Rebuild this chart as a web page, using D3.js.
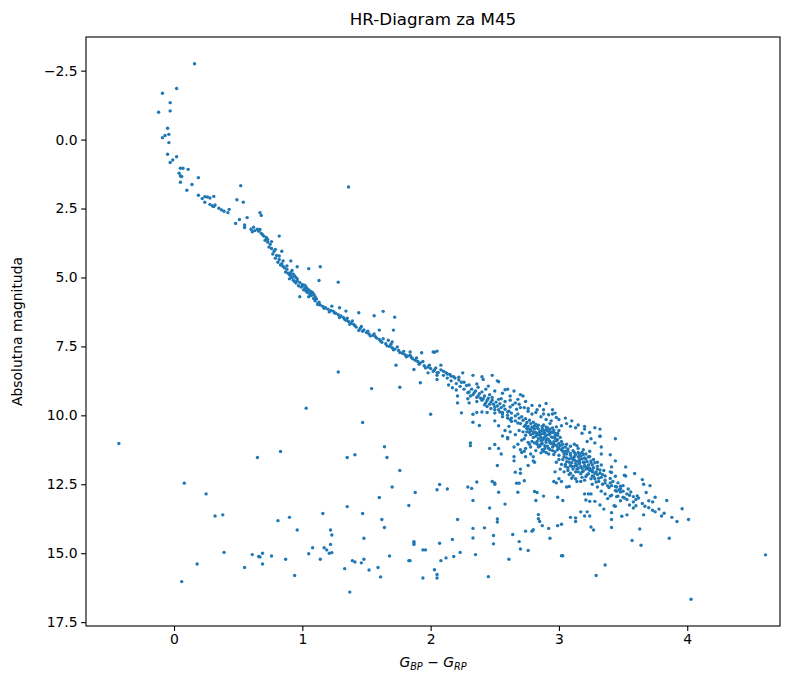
<!DOCTYPE html>
<html>
<head>
<meta charset="utf-8">
<script src="https://cdn.jsdelivr.net/npm/d3@7"></script>
<style>
body { margin: 0; background: #fff; }
text { font-family: "DejaVu Sans", sans-serif; fill: #000; }
</style>
</head>
<body>
<svg id="hr_svg"></svg>
<script>
const TITLE = "HR-Diagram za M45"
const Y_LABEL = "Absolutna magnituda"
const xTicks = [0, 1, 2, 3, 4]
const yTicks = [-2.5, 0, 2.5, 5, 7.5, 10, 12.5, 15, 17.5]

// [G_BP - G_RP, absolute magnitude]
const upperBranch = [
  [0.16,-2.75],[-0.09,-1.68],[0.02,-1.85],[-0.03,-1.34],[-0.03,-1.04],[-0.12,-0.99],[-0.05,-0.41],
  [-0.04,-0.19],[-0.09,-0.07],[-0.07,-0.15],[-0.04,0.11],[-0.05,0.53],[0.02,0.62],[-0.03,0.83],
  [-0.01,0.74],[0.05,1.04],[0.07,1.04],[0.11,1.08],[0.04,1.22],[0.05,1.32],[0.06,1.34],[0.19,1.38],
  [0.05,1.55],[0.14,1.63],[0.10,1.84],[0.19,2.02],[0.22,2.14],[0.24,2.07],[0.26,2.08],[0.28,2.12],
  [0.31,2.06],[0.24,2.27],[0.28,2.35],[0.30,2.41],[0.32,2.37],[0.31,2.43],[0.35,2.49],[0.37,2.55],
  [0.39,2.60],[0.42,2.65],[0.43,2.53],[0.52,1.67],[0.49,2.18],[0.54,2.27],[0.57,2.83],[0.51,2.90],
  [0.48,3.04],[0.55,3.10],[0.55,3.19],[0.60,3.25],[0.62,3.18],[0.63,3.30],[0.65,3.25],[0.61,3.34],
  [0.67,2.65],[1.36,1.72],[0.68,2.75],[0.67,3.26]
]

const mainSequence = [
  [0.68,3.40],[0.70,3.50],[0.72,3.55],[0.71,3.65],[0.73,3.72],[0.75,3.80],[0.74,3.90],[0.76,3.95],
  [0.78,4.05],[0.77,4.15],[0.80,4.20],[0.79,4.30],[0.82,4.35],[0.81,4.45],[0.84,4.50],[0.85,4.60],
  [0.83,4.55],[0.86,4.65],[0.88,4.70],[0.87,4.80],[0.89,4.85],[0.90,4.90],[0.91,4.95],[0.92,5.00],
  [0.90,5.05],[0.93,5.10],[0.92,4.75],[0.94,5.15],[0.95,5.20],[0.96,5.05],[0.97,5.30],[0.99,5.35],
  [1.00,5.25],[1.01,5.45],[1.02,5.40],[1.03,5.50],[1.04,5.55],[1.05,5.45],[1.06,5.60],[1.07,5.65],
  [1.05,5.70],[1.08,5.55],[1.09,5.75],[1.10,5.85],[1.12,5.95],[1.14,6.00],[1.16,6.05],[1.18,6.10],
  [1.20,6.15],[1.22,6.20],[1.24,6.22],[1.26,6.30],[1.28,6.35],[1.30,6.40],[1.32,6.45],[1.34,6.55],
  [1.36,6.60],[1.38,6.65],[1.40,6.70],[1.42,6.80],[1.45,6.85],[1.47,6.95],[1.50,7.00],[1.52,7.05],
  [1.55,7.10],[1.58,7.20],[1.60,7.25],[1.62,7.35],[1.65,7.40],[1.68,7.50],[1.70,7.55],[1.72,7.60],
  [1.75,7.65],[1.78,7.75],[1.80,7.80],[1.82,7.85],[1.85,7.90],[1.88,8.00],[1.90,8.05],[1.92,8.10],
  [1.95,8.20],[1.98,8.25],[2.00,8.30],[2.03,8.35],[2.06,8.45],[2.10,8.55],[2.13,8.65],[2.16,8.75],
  [2.20,8.85],[2.23,8.95],[2.26,9.05],[2.30,9.15],[2.33,9.25],[2.36,9.35],[2.40,9.45],[2.43,9.55],
  [2.46,9.60],[2.50,9.70],[2.53,9.80],[2.56,9.90],[2.60,10.00],[2.63,10.10],[2.66,10.20],[2.70,10.30],
  [2.73,10.40],[2.76,10.50],[2.80,10.60],[2.83,10.70],[2.86,10.80],[2.90,10.90],[2.93,11.00],
  [2.96,11.10],[3.00,11.20],[3.03,11.30],[3.06,11.40],[3.10,11.55],[3.13,11.65],[3.16,11.75],
  [3.20,11.85],[3.23,11.95],[3.26,12.05],[3.30,12.15],[3.33,12.25],[3.36,12.35],[3.40,12.45],
  [3.45,12.60],[3.50,12.75],[3.55,12.90],[3.60,13.05],[3.65,13.20],[3.70,13.35],[3.75,13.50],[3.80,13.65],
  [0.66,3.32],[0.69,3.45],[0.73,3.62],[0.76,3.70],[0.79,3.98],[0.82,4.22],[0.85,4.40],[0.88,4.58],
  [0.91,4.82],[0.93,4.88],[0.95,5.00],[0.98,5.18],[1.00,5.32],[1.03,5.35],[1.06,5.50],[1.09,5.62],
  [1.11,5.78],[1.13,5.90],[1.17,6.12],[1.21,6.25],[1.25,6.28],[1.29,6.45],[1.33,6.52],[1.37,6.70],
  [1.41,6.75],[1.44,6.92],[1.48,6.90],[1.53,7.12],[1.57,7.15],[1.61,7.30],[1.66,7.48],[1.71,7.62],
  [1.76,7.72],[1.81,7.88],[1.86,7.95],[1.91,8.15],[1.96,8.28],[2.02,8.40],
  [0.94,4.95],[0.96,5.12],[1.02,5.28],[1.04,5.42],[1.07,5.52],[1.10,5.70],[1.35,6.48],[1.39,6.58],
  [1.46,6.78],[1.51,6.95],[1.56,7.05],[1.63,7.22],[1.69,7.42],[1.74,7.52],[1.79,7.68],[1.84,7.82],
  [1.89,7.92],[1.94,8.05],[1.99,8.18],[2.04,8.28],[2.08,8.35],[2.12,8.45],[2.15,8.52],[2.18,8.60],
  [2.22,8.62],[2.26,8.80],[2.30,8.90]
]

const sequenceScatter = [
  [0.82,3.50],[0.84,4.05],[0.91,4.40],[0.96,4.61],[1.05,4.68],[1.14,4.61],[1.13,5.11],[1.28,5.17],
  [0.98,5.70],[1.09,5.77],[1.12,5.98],[1.23,6.04],[1.29,6.10],[1.34,6.22],[1.44,6.28],[1.56,6.39],
  [1.63,6.23],[1.72,6.44],[1.60,6.91],[1.71,6.91],[1.67,7.28],[1.70,7.34],[1.84,7.70],[1.93,7.73],
  [2.02,7.70],[2.05,7.67],[2.03,7.71],[1.73,8.18],[1.87,8.34],[1.92,8.82],[1.98,8.46],[2.08,8.18]
]

const clusterCore = [
  [2.05,8.45],[2.05,8.55],[2.05,8.70],[2.10,8.40],[2.13,8.50],[2.16,8.58],[2.19,8.65],[2.22,8.72],
  [2.24,8.80],[2.25,8.46],[2.14,8.90],[2.17,9.00],[2.20,9.08],[2.21,9.30],[2.21,9.55],[2.24,9.91],
  [2.33,8.55],[2.40,8.60],[2.41,8.70],[2.48,8.55],[2.52,8.75],[2.53,8.78],[2.45,8.94],[2.36,8.86],
  [2.29,9.18],[2.29,9.40],[2.30,9.55],[2.33,9.96],[2.36,9.90],[2.40,9.88],[2.44,9.90],[2.50,9.92],
  [2.54,9.88],[2.56,9.95],[2.65,9.12],[2.58,9.07],[2.60,9.05],[2.70,9.25],[2.72,9.30],[2.79,9.64],
  [2.90,9.57],[2.83,9.80],[2.88,9.80],[2.95,9.80],[2.62,9.70],[2.61,9.85],[2.60,10.10],[2.67,9.78],
  [2.68,9.95],[2.71,10.05],[2.74,10.12],[2.77,10.18],[2.80,10.25],[2.82,10.32],[2.88,9.95],[2.92,9.98],
  [2.97,9.92],[2.98,10.08],[2.33,10.25],[2.38,10.37],[2.50,10.20],[2.53,10.38],[2.61,10.40],[2.63,10.22],
  [2.88,10.35],[2.93,10.30],[2.98,10.42],[3.02,10.38],[3.06,10.30],[3.09,10.40],[3.13,10.45],
  [2.28,8.92],[2.32,9.05],[2.35,9.12],[2.38,9.22],[2.42,9.30],[2.45,9.38],[2.48,9.45],[2.51,9.52],
  [2.54,9.58],[2.57,9.65],[2.31,9.30],[2.36,9.50],[2.42,9.62],[2.47,9.75],[2.40,9.15],[2.46,9.25],
  [2.55,9.40],[2.62,9.45],[2.66,9.55],[2.69,9.60],[2.73,9.72],[2.76,9.85],[2.79,9.95],
  [2.76,10.40],[2.78,10.55],[2.80,10.45],[2.82,10.62],[2.84,10.50],[2.85,10.72],[2.86,10.58],[2.87,10.90],
  [2.88,10.66],[2.89,10.78],[2.90,10.52],[2.91,10.85],[2.92,10.70],[2.93,10.95],[2.94,10.60],[2.95,10.80],
  [2.96,11.05],[2.97,10.75],[2.98,10.92],[2.99,11.15],[2.80,10.80],[2.83,10.95],[2.86,11.05],[2.89,11.10],
  [2.92,11.20],[2.95,11.28],[2.78,10.70],[2.81,11.00],[2.84,11.15],[2.87,11.25],[2.90,11.35],[2.75,10.60],
  [2.73,10.85],[2.77,11.05],[2.74,11.20],[2.91,10.45],[2.96,10.55],[2.99,10.65],[3.01,10.80],[3.02,10.95],
  [3.00,10.55],
  [3.02,11.25],[3.04,11.40],[3.05,11.15],[3.06,11.55],[3.07,11.30],[3.08,11.70],[3.09,11.45],[3.10,11.85],
  [3.11,11.60],[3.12,11.35],[3.13,11.75],[3.14,11.95],[3.15,11.50],[3.16,11.65],[3.17,11.85],[3.18,12.05],
  [3.19,11.70],[3.20,11.55],[3.21,11.95],[3.22,12.15],[3.23,11.80],[3.24,12.00],[3.25,11.65],[3.26,12.20],
  [3.27,11.90],[3.28,12.30],[3.29,12.05],[3.30,11.85],[3.31,12.40],[3.32,12.10],[3.03,11.60],[3.05,11.85],
  [3.07,12.00],[3.09,12.10],[3.11,12.20],[3.13,12.30],[3.15,12.05],[3.17,12.40],[3.12,11.05],[3.15,11.20],
  [3.18,11.35],[3.21,11.40],[3.24,11.50],[3.27,11.60],[3.30,11.70],[3.33,11.80],[3.35,12.00],[3.36,12.20],
  [3.38,12.55],[3.34,12.50],[3.00,11.45],[2.98,11.70],[3.01,11.95],[2.97,12.05],
  [2.31,11.00],[2.31,11.10],[2.46,11.20],[2.50,11.06],[2.53,11.20],[2.55,11.40],[2.60,10.80],[2.60,10.85],
  [2.65,11.15],[2.65,11.50],[2.65,11.65],[2.70,11.25],[2.71,11.35],[2.73,11.30],[2.74,11.50],[2.52,11.82],
  [2.70,11.95],[2.70,12.10],[2.66,12.06],[2.76,11.82],[2.80,11.65],[2.81,11.70],[2.62,10.60],[2.66,10.70],
  [2.69,10.55],[2.71,10.90],[2.68,11.05],[2.58,10.55],[2.56,10.75],[2.78,11.40],[2.80,11.50],
  [3.32,10.76],[3.33,11.15],[3.33,11.40],[3.28,10.45],[3.32,10.50],[3.20,10.50],[3.24,10.62],
  [3.44,10.85],[3.40,11.43],[3.44,11.65],[3.41,11.87],[3.52,11.87],[3.40,12.05],[3.41,12.07],[3.44,12.21],
  [3.51,12.17],[3.52,12.20],[3.59,12.11],[3.40,12.29],[3.46,12.45],[3.65,12.33],[3.66,12.50],[3.71,12.55],
  [3.41,12.55],[3.48,12.57],[3.48,12.66],[3.48,12.78],[3.44,12.73],[3.45,12.75],[3.54,12.67],[3.68,12.80],
  [3.40,12.93],[3.41,12.90],[3.46,12.93],[3.50,12.97],[3.51,13.00],[3.53,13.05],[3.61,12.92],[3.75,12.97],
  [3.84,13.09],[3.58,13.14],[3.73,13.14],[3.43,13.28],[3.44,13.30],[3.58,13.36],[3.73,13.44],[3.41,13.53],
  [3.53,13.61],[3.49,13.66],[3.66,13.61],[3.96,13.39],[4.01,13.78],[3.41,13.78],[3.41,14.07],[3.63,14.12],
  [3.86,14.46],[3.57,14.54],[3.64,14.71]
]

// the two crowded knots of the cluster sequence and the band around them
const denseCore = [
  [2.79,10.42],[2.81,10.50],[2.83,10.44],[2.85,10.60],[2.87,10.48],[2.89,10.63],[2.91,10.56],[2.93,10.66],
  [2.95,10.62],[2.97,10.84],[2.99,10.72],[2.82,10.76],[2.84,10.85],[2.86,10.92],[2.88,10.84],[2.90,10.98],
  [2.92,10.88],[2.94,11.02],[2.96,10.96],[2.98,11.08],[3.00,11.02],[2.83,11.05],[2.85,11.12],[2.87,11.02],
  [2.89,11.20],[2.91,11.12],[2.93,11.25],[2.95,11.15],[2.97,11.32],[2.99,11.25],[2.81,10.38],[2.84,10.36],
  [2.87,10.40],[2.90,10.42],[2.93,10.50],[2.95,10.46],[2.77,10.62],[2.79,10.95],[2.76,10.98],[2.78,11.15],
  [2.82,11.28],[2.86,11.36],[2.88,10.55],[2.86,10.68],[2.90,10.72],[2.94,10.78],[2.92,10.58],[2.97,10.66],
  [2.99,10.88],[3.01,11.10],[3.03,11.05],[2.88,11.30],[2.92,11.40],[2.96,11.42],[2.84,10.66],[2.80,10.66],
  [2.78,10.50],[2.75,10.48],[2.72,10.60],[2.74,10.72],
  [3.03,11.18],[3.05,11.30],[3.07,11.22],[3.09,11.38],[3.11,11.28],[3.13,11.42],[3.15,11.35],[3.17,11.48],
  [3.19,11.42],[3.21,11.58],[3.23,11.50],[3.25,11.72],[3.04,11.50],[3.06,11.68],[3.08,11.58],[3.10,11.72],
  [3.12,11.62],[3.14,11.82],[3.16,11.72],[3.18,11.92],[3.20,11.82],[3.22,11.88],[3.24,11.92],[3.26,11.98],
  [3.28,12.10],[3.05,11.78],[3.07,11.90],[3.09,11.82],[3.11,11.95],[3.13,12.05],[3.15,11.92],[3.17,12.12],
  [3.19,12.02],[3.21,12.22],[3.23,12.12],[3.25,12.30],[3.27,12.22],[3.29,12.42],[3.31,12.28],[3.08,12.15],
  [3.10,12.28],[3.14,12.40],[3.18,12.25],[3.20,12.35],[3.16,11.40],[3.18,11.58],[3.22,11.68],[3.26,11.80],
  [3.28,11.72],[3.30,11.95],[3.32,11.98],[3.34,12.15],[3.06,11.05],[3.09,11.12],[3.14,11.10],[3.19,11.25],
  [3.24,11.30],[3.02,11.78],[3.00,11.60],[3.04,12.05],[3.12,11.50],[3.16,11.60],[3.20,11.70],[3.12,11.85],
  [3.15,11.68],
  [2.34,9.18],[2.37,9.30],[2.39,9.38],[2.41,9.40],[2.44,9.46],[2.47,9.52],[2.49,9.60],[2.52,9.66],
  [2.55,9.72],[2.58,9.78],[2.60,9.88],[2.63,9.92],[2.66,10.02],[2.69,10.10],[2.72,10.18],[2.75,10.26],
  [2.78,10.30],[2.44,9.68],[2.50,9.80],[2.56,10.05],[2.62,10.15],[2.68,10.28],[2.74,10.35],[2.48,9.35],
  [2.53,9.42],[2.58,9.50],[2.64,9.62],[2.70,9.72],[2.76,9.75],[2.82,9.90],[2.86,10.05],[2.90,10.15],
  [2.94,10.20],[2.37,8.98],[2.43,9.05],[2.50,9.12],[2.56,9.20],[2.62,9.30],[2.68,9.42],[2.74,9.50],
  [2.85,9.65],[2.95,9.95],[3.00,10.15],[3.05,10.10],[3.10,10.20],[3.15,10.35],[3.20,10.40],[3.18,10.65],
  [3.25,10.85],[3.28,11.00],[3.22,10.95],
  [3.36,12.45],[3.39,12.62],[3.42,12.40],[3.44,12.58],[3.47,12.70],[3.50,12.55],[3.53,12.85],[3.56,12.78],
  [3.58,12.95],[3.62,13.00],[3.45,12.95],[3.48,13.10],[3.55,13.25],[3.60,13.28],[3.67,13.30],[3.70,13.10],
  [3.78,13.40],[3.82,13.55],[3.88,13.70],[3.92,13.85],[3.36,12.85],[3.38,13.02],[3.30,12.60],[3.26,12.50],
  [3.33,12.75]
]

const fieldStars = [
  [1.28,8.43],[1.54,9.03],[1.76,8.98],[1.03,9.74],[1.47,10.26],[2.00,9.96],
  [2.07,12.51],[2.05,12.70],[2.13,12.67],[2.29,12.60],[2.32,12.65],[2.36,12.42],[2.48,12.40],[2.50,12.45],
  [2.50,12.50],[2.33,13.09],[2.53,12.79],[2.58,13.22],[2.46,13.36],[2.67,12.46],[2.69,12.46],[2.68,12.79],
  [2.73,12.37],[2.81,12.76],[2.83,12.80],[2.82,13.09],[2.88,12.93],[2.99,12.97],[3.03,13.09],[2.96,12.40],
  [2.98,12.45],[3.00,12.30],[3.02,12.40],[3.06,12.60],[3.08,12.58],[3.20,12.85],[3.23,12.85],[3.25,12.85],
  [3.21,13.07],[3.24,13.12],[3.28,13.12],[3.32,13.25],[3.35,13.40],[3.17,13.50],[3.20,13.65],[3.22,13.50],
  [3.24,13.65],[2.21,13.78],[2.52,13.76],[2.52,13.87],[2.84,13.60],[2.84,13.75],[2.85,13.85],[2.87,14.00],
  [2.92,14.10],[2.93,14.46],[2.80,14.15],[2.79,14.20],[2.74,14.20],[2.64,14.32],[2.69,14.58],[2.70,14.85],
  [2.76,14.90],[2.61,15.22],[2.45,15.85],[2.33,14.10],[2.33,14.45],[2.42,14.08],[2.49,14.36],[2.49,14.66],
  [2.35,15.05],[2.17,14.50],[2.07,14.64],[2.08,15.27],[2.12,15.17],[2.18,15.12],[2.23,14.97],[2.03,15.60],
  [2.05,15.77],[2.05,15.90],[2.99,14.00],[3.02,13.95],[3.09,13.70],[3.13,13.72],[3.13,13.85],[3.25,14.05],
  [3.27,14.16],[3.02,15.09],[3.03,15.09],[3.36,15.43],[3.29,15.81],[3.32,10.76],
  [4.61,15.06],[4.03,16.67],
  [-0.43,11.02],[0.65,11.53],[0.08,12.46],[0.25,12.85],[0.32,13.65],[0.38,13.61],[0.39,14.97],[0.18,15.39],
  [0.06,16.03],[0.61,15.05],[0.55,15.52],[0.66,15.12],
  [0.83,11.31],[1.35,11.53],[1.41,11.43],[1.64,11.14],[1.66,11.53],[1.76,12.00],[1.70,12.60],[1.88,12.80],
  [1.60,12.98],[1.83,13.27],[1.35,13.31],[1.16,13.56],[1.47,13.56],[0.81,13.82],[0.90,13.70],[1.62,13.78],
  [0.96,14.16],[1.22,14.16],[1.23,14.34],[1.64,14.07],[1.48,14.46],[1.22,14.68],[1.08,14.80],[1.17,14.80],
  [1.19,14.88],[1.05,15.02],[1.21,15.00],[1.23,14.98],[0.69,15.00],[0.67,15.14],[0.69,15.39],[0.76,15.10],
  [0.87,15.22],[0.94,15.81],[1.14,15.22],[1.39,15.27],[1.41,15.32],[1.46,15.35],[1.48,15.22],[1.33,15.56],
  [1.52,15.61],[1.59,15.52],[1.61,15.86],[1.68,15.10],[1.37,16.41],[1.87,14.58],[1.87,14.63],[1.87,14.68],
  [1.94,14.88],[1.96,14.88],[1.83,15.27],[1.84,15.27],[1.94,15.90]
]

const allStars = [...upperBranch, ...mainSequence, ...sequenceScatter, ...clusterCore, ...denseCore, ...fieldStars]

const drawHrDiagram = (svgId) => {
    const totalWidth = 789, totalHeight = 677
    const margin = {top: 37, right: 9, bottom: 51, left: 86}
    const width = totalWidth - margin.left - margin.right
    const height = totalHeight - margin.top - margin.bottom

    const svg = d3.select("#" + svgId)
        .attr("width", totalWidth)
        .attr("height", totalHeight)

    const g = svg.append("g")
        .attr("transform", `translate(${margin.left},${margin.top})`)

    const xScale = d3.scaleLinear()
        .domain([-0.686, 4.723])
        .range([0, width])

    // magnitude axis is inverted: bright stars on top
    const yScale = d3.scaleLinear()
        .domain([-3.72, 17.64])
        .range([0, height])

    g.selectAll(".star")
        .data(allStars)
        .join("circle")
        .attr("class", "star")
        .attr("cx", d => xScale(d[0]))
        .attr("cy", d => yScale(d[1]))
        .attr("r", 1.7)
        .style("fill", "#1f77b4")

    const xAxis = d3.axisBottom(xScale)
        .tickValues(xTicks)
        .tickFormat(d3.format("d"))
        .tickSize(4.9)
        .tickSizeOuter(0)
        .tickPadding(3.5)
    const yAxis = d3.axisLeft(yScale)
        .tickValues(yTicks)
        .tickFormat(d3.format(".1f"))
        .tickSize(4.9)
        .tickSizeOuter(0)
        .tickPadding(3.5)

    const xAxisGroup = g.append("g")
        .attr("transform", `translate(0,${height})`)
        .call(xAxis)
    const yAxisGroup = g.append("g")
        .call(yAxis);

    [xAxisGroup, yAxisGroup].forEach(ax => {
        ax.select(".domain").remove()
        ax.selectAll(".tick line").attr("stroke", "#000").attr("stroke-width", 1.1)
        ax.selectAll(".tick text")
            .style("font-family", "'DejaVu Sans', sans-serif")
            .style("font-size", "13.9px")
            .attr("fill", "#000")
    })

    // frame
    g.append("rect")
        .attr("width", width)
        .attr("height", height)
        .attr("fill", "none")
        .attr("stroke", "#000")
        .attr("stroke-width", 1.1)

    svg.append("text")
        .attr("x", margin.left + width / 2)
        .attr("y", 25)
        .attr("text-anchor", "middle")
        .style("font-size", "16.7px")
        .text(TITLE)

    svg.append("text")
        .attr("transform", `translate(22,${margin.top + height / 2}) rotate(-90)`)
        .attr("text-anchor", "middle")
        .style("font-size", "13.9px")
        .text(Y_LABEL)

    // x label: G_BP - G_RP
    const xLabel = svg.append("text")
        .attr("x", margin.left + width / 2)
        .attr("y", 667)
        .attr("text-anchor", "middle")
        .style("font-size", "13.9px")
    xLabel.append("tspan").style("font-style", "italic").text("G")
    xLabel.append("tspan").style("font-style", "italic").style("font-size", "9.7px").attr("dy", 3).text("BP")
    xLabel.append("tspan").attr("dy", -3).text(" \u2212 ")
    xLabel.append("tspan").style("font-style", "italic").text("G")
    xLabel.append("tspan").style("font-style", "italic").style("font-size", "9.7px").attr("dy", 3).text("RP")
}

document.addEventListener('DOMContentLoaded', () => {
    drawHrDiagram("hr_svg")
})
</script>
</body>
</html>
